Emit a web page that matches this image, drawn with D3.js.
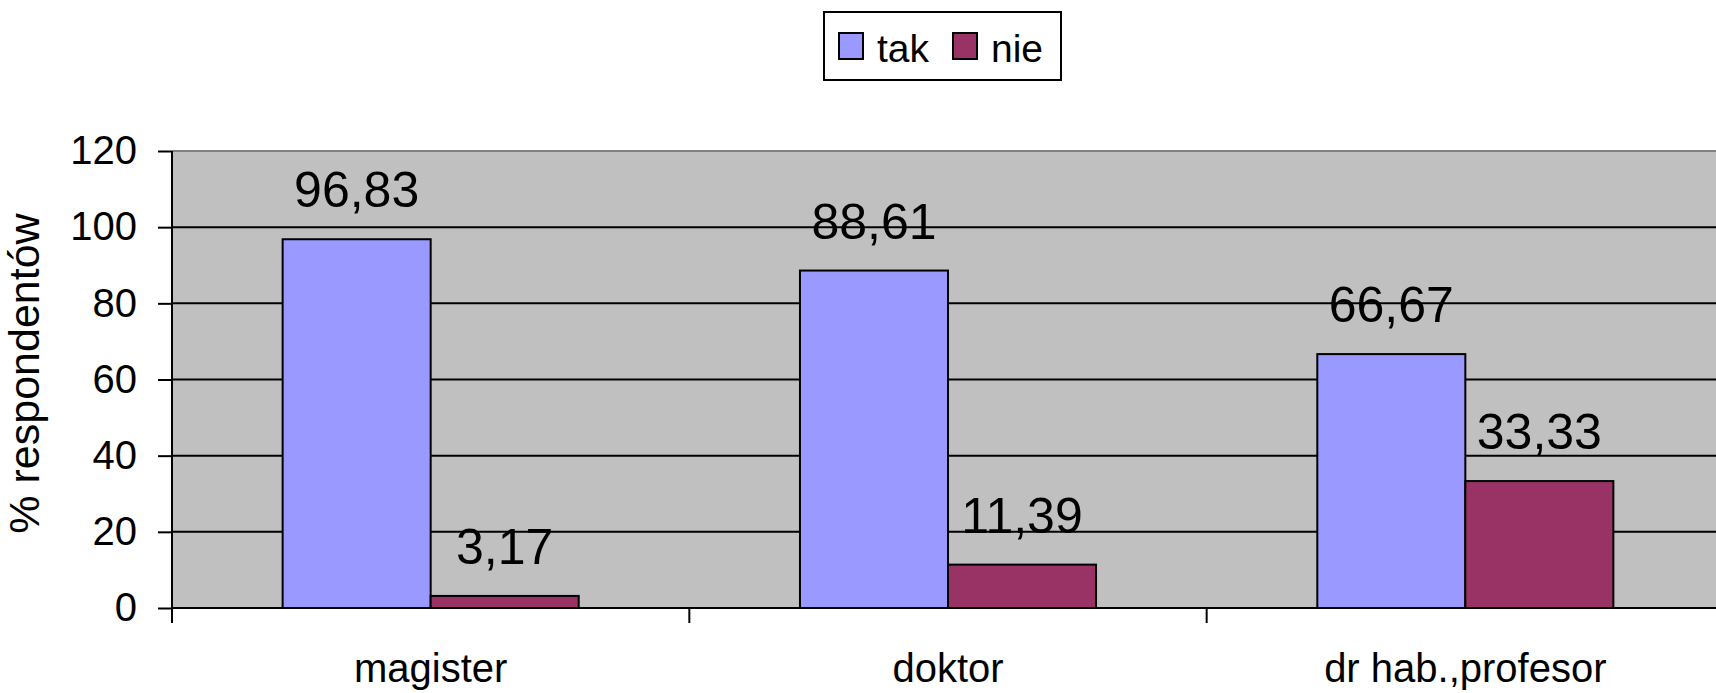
<!DOCTYPE html>
<html>
<head>
<meta charset="utf-8">
<script src="https://cdn.jsdelivr.net/npm/d3@7"></script>
<style>
  html, body { margin: 0; padding: 0; background: #fff; }
  svg { display: block; font-family: Arial, "Liberation Sans", sans-serif; }
</style>
</head>
<body>
<svg id="chart"></svg>
<script>
const categories = ['magister', 'doktor', 'dr hab.,profesor'];
const seriesNames = ['tak', 'nie'];
const seriesColors = ['#9999FF', '#993366'];
const takValues = [96.83, 88.61, 66.67];
const nieValues = [3.17, 11.39, 33.33];
const valueLabels = [['96,83', '88,61', '66,67'], ['3,17', '11,39', '33,33']];
const yTicks = [0, 20, 40, 60, 80, 100, 120];

const width = 1716;
const height = 693;
const marginLeft = 172;
const marginTop = 151;
const marginBottom = 85; // plot bottom at 608
const plotRight = 1724; // the plot runs a little past the window edge

const svg = d3.select('#chart').attr('width', width).attr('height', height).attr('viewBox', [0, 0, width, height]);

const plotBottom = height - marginBottom;
const x_scale = d3.scaleBand(categories, [marginLeft, plotRight]).paddingInner(0.4277).paddingOuter(0.21385);
const x_inner = d3.scaleBand(seriesNames, [0, x_scale.bandwidth()]);
const y_scale = d3.scaleLinear([0, 120], [plotBottom, marginTop]);

// plot background
svg
  .append('rect')
  .attr('x', marginLeft)
  .attr('y', marginTop)
  .attr('width', plotRight - marginLeft)
  .attr('height', plotBottom - marginTop)
  .attr('fill', '#C0C0C0');

// gridlines
svg
  .append('g')
  .selectAll('line')
  .data(yTicks.filter((t) => t > 0))
  .join('line')
  .attr('x1', marginLeft)
  .attr('x2', plotRight)
  .attr('y1', (d) => y_scale(d))
  .attr('y2', (d) => y_scale(d))
  .attr('stroke', (d) => (d === 120 ? '#808080' : '#000'))
  .attr('stroke-width', 2);

// bars
const series = [takValues, nieValues];
series.forEach((values, si) => {
  svg
    .append('g')
    .selectAll('rect')
    .data(values)
    .join('rect')
    .attr('x', (d, i) => x_scale(categories[i]) + x_inner(seriesNames[si]))
    .attr('y', (d) => y_scale(d))
    .attr('width', x_inner.bandwidth())
    .attr('height', (d) => y_scale(0) - y_scale(d))
    .attr('fill', seriesColors[si])
    .attr('stroke', '#000')
    .attr('stroke-width', 2);

  // data labels
  svg
    .append('g')
    .selectAll('text')
    .data(values)
    .join('text')
    .attr('x', (d, i) => x_scale(categories[i]) + x_inner(seriesNames[si]) + x_inner.bandwidth() / 2)
    .attr('y', (d) => y_scale(d) - 32)
    .attr('text-anchor', 'middle')
    .attr('font-size', 50)
    .attr('fill', '#000')
    .text((d, i) => valueLabels[si][i]);
});

// y axis
const y_axis = d3.axisLeft(y_scale).tickValues(yTicks).tickSize(14).tickPadding(21);
svg
  .append('g')
  .attr('transform', `translate(${marginLeft},0)`)
  .call(y_axis)
  .call((g) => g.select('.domain').remove())
  .call((g) => g.selectAll('.tick line').attr('stroke', '#000').attr('stroke-width', 2))
  .call((g) => g.selectAll('.tick text').attr('font-size', 40).attr('fill', '#000').attr('font-family', null));

svg
  .append('line')
  .attr('x1', marginLeft)
  .attr('x2', marginLeft)
  .attr('y1', marginTop)
  .attr('y2', plotBottom + 15)
  .attr('stroke', '#000')
  .attr('stroke-width', 2);

// x axis
svg
  .append('line')
  .attr('x1', marginLeft)
  .attr('x2', plotRight)
  .attr('y1', plotBottom)
  .attr('y2', plotBottom)
  .attr('stroke', '#000')
  .attr('stroke-width', 2);

svg
  .append('g')
  .selectAll('line')
  .data(categories.slice(1))
  .join('line')
  .attr('x1', (d) => x_scale(d) - (x_scale.step() * x_scale.paddingInner()) / 2)
  .attr('x2', (d) => x_scale(d) - (x_scale.step() * x_scale.paddingInner()) / 2)
  .attr('y1', plotBottom)
  .attr('y2', plotBottom + 15)
  .attr('stroke', '#000')
  .attr('stroke-width', 2);

svg
  .append('g')
  .selectAll('text')
  .data(categories)
  .join('text')
  .attr('x', (d) => x_scale(d) + x_scale.bandwidth() / 2)
  .attr('y', 682)
  .attr('text-anchor', 'middle')
  .attr('font-size', 40)
  .attr('fill', '#000')
  .text((d) => d);

// y axis title
svg
  .append('text')
  .attr('transform', `translate(39,${(marginTop + plotBottom) / 2 - 6}) rotate(-90)`)
  .attr('text-anchor', 'middle')
  .attr('font-size', 43)
  .attr('fill', '#000')
  .text('% respondentów');

// legend
const legend = svg.append('g').attr('transform', 'translate(824,12)');
legend
  .append('rect')
  .attr('width', 237)
  .attr('height', 68)
  .attr('fill', '#fff')
  .attr('stroke', '#000')
  .attr('stroke-width', 2);
const legendX = [15, 129];
const legendItems = legend
  .selectAll('g')
  .data(seriesNames)
  .join('g')
  .attr('transform', (d, i) => `translate(${legendX[i]},21)`);
legendItems
  .append('rect')
  .attr('width', 24)
  .attr('height', 26)
  .attr('fill', (d, i) => seriesColors[i])
  .attr('stroke', '#000')
  .attr('stroke-width', 2);
legendItems
  .append('text')
  .attr('x', 38)
  .attr('y', 29)
  .attr('font-size', 39)
  .attr('fill', '#000')
  .text((d) => d);
</script>
</body>
</html>
